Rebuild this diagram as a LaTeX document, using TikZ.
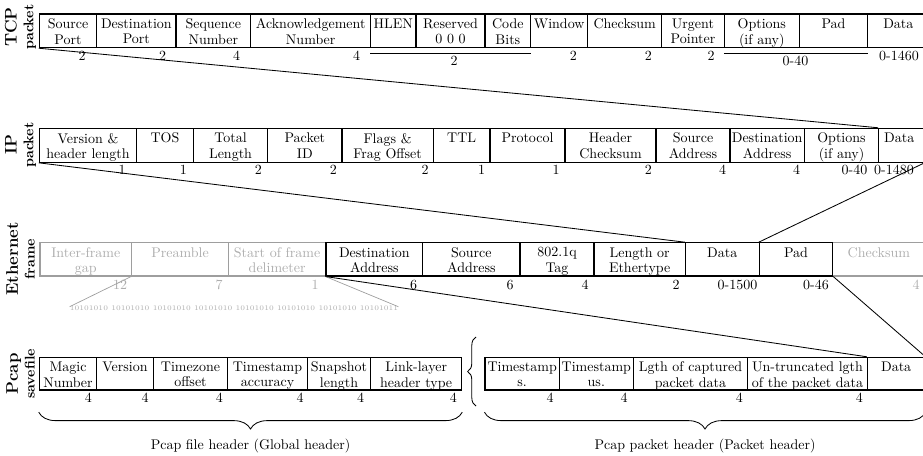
\documentclass[tikz,border=0pt]{standalone}
\usetikzlibrary{fit,decorations.pathreplacing}
\definecolor{gline}{gray}{0.62}
\definecolor{gtext}{gray}{0.68}
\begin{document}
\begin{tikzpicture}[x=0.7143pt,y=-0.7143pt,
  field/.style={draw, line width=0.75pt, inner sep=0pt},
  gfield/.style={field, draw=gline},
  ftxt/.style={anchor=north, align=center, inner sep=0pt, yshift=-3.6pt,
               font=\fontsize{10}{11}\selectfont},
  gftxt/.style={ftxt, text=gtext},
  num/.style={inner sep=0pt},
  gnum/.style={num, text=gtext},
  link/.style={line width=0.6pt},
  glink/.style={line width=0.5pt, draw=gline},
  rowlabel/.style={rotate=90, align=center, font=\bfseries, inner sep=0pt},
  brc/.style={decorate, decoration={brace, amplitude=#1}, line width=0.6pt}
]
\useasboundingbox (0,0) rectangle (923,456);
\clip (0,0) rectangle (923,456);

% ---------------- row labels ----------------
\node[rowlabel] (ltcp) at (20.5,27)  {{\large TCP}\\packet};
\node[rowlabel] (lip)  at (20.5,145) {{\large IP}\\packet};
\node[rowlabel] (leth) at (20.5,259) {{\large Ethernet}\\frame};
\node[rowlabel] (lpc)  at (20.5,374) {{\large Pcap}\\savefile};

% ---------------- TCP packet ----------------
\node[field, fit={(39.3,14)(96.7,47.7)},   label={[ftxt]north:{Source\\Port}}] (tcp1) {};
\node[field, fit={(96.7,14)(176,47.7)},    label={[ftxt]north:{Destination\\Port}}] (tcp2) {};
\node[field, fit={(176,14)(250.7,47.7)},   label={[ftxt]north:{Sequence\\Number}}] (tcp3) {};
\node[field, fit={(250.7,14)(370.7,47.7)}, label={[ftxt]north:{Acknowledgement\\Number}}] (tcp4) {};
\node[field, fit={(370.7,14)(416,47.7)},   label={[ftxt]north:{HLEN}}] (tcp5) {};
\node[field, fit={(416,14)(485,47.7)},     label={[ftxt]north:{Reserved\\0 0 0}}] (tcp6) {};
\node[field, fit={(485,14)(530.7,47.7)},   label={[ftxt]north:{Code\\Bits}}] (tcp7) {};
\node[field, fit={(530.7,14)(587.7,47.7)}, label={[ftxt]north:{Window}}] (tcp8) {};
\node[field, fit={(587.7,14)(661.7,47.7)}, label={[ftxt]north:{Checksum}}] (tcp9) {};
\node[field, fit={(661.7,14)(724.3,47.7)}, label={[ftxt]north:{Urgent\\Pointer}}] (tcp10) {};
\node[field, fit={(724.3,14)(799.3,47.7)}, label={[ftxt]north:{Options\\(if any)}}] (tcp11) {};
\node[field, fit={(799.3,14)(867.7,47.7)}, label={[ftxt]north:{Pad}}] (tcp12) {};
\node[field, fit={(867.7,14)(929,47.7)},   label={[ftxt]north:{Data}}] (tcp13) {};

\node[num] (tn1) at (82,56)    {2};
\node[num] (tn2) at (162.7,56) {2};
\node[num] (tn3) at (236.7,56) {4};
\node[num] (tn4) at (356.7,56) {4};
\draw[link] ([yshift=-4pt]tcp5.south west) -- ([yshift=-4pt]tcp7.south east);
\node[num] (tn5) at (454,61)   {2};
\node[num] (tn6) at (573.3,56) {2};
\node[num] (tn7) at (648.3,56) {2};
\node[num] (tn8) at (711,56)   {2};
\draw[link] ([yshift=-4pt]tcp11.south west) -- ([yshift=-4pt]tcp12.south east);
\node[num] (tn9) at (795.5,61) {0-40};
\node[num] (tn10) at (899,56)  {0-1460};

% ---------------- IP packet ----------------
\node[field, fit={(39.3,128.3)(136.7,162.3)},  label={[ftxt]north:{Version \&\\header length}}] (ip1) {};
\node[field, fit={(136.7,128.3)(193.3,162.3)}, label={[ftxt]north:{TOS}}] (ip2) {};
\node[field, fit={(193.3,128.3)(267.7,162.3)}, label={[ftxt]north:{Total\\Length}}] (ip3) {};
\node[field, fit={(267.7,128.3)(342,162.3)},   label={[ftxt]north:{Packet\\ID}}] (ip4) {};
\node[field, fit={(342,128.3)(433.3,162.3)},   label={[ftxt]north:{Flags \&\\Frag Offset}}] (ip5) {};
\node[field, fit={(433.3,128.3)(490,162.3)},   label={[ftxt]north:{TTL}}] (ip6) {};
\node[field, fit={(490,128.3)(565,162.3)},     label={[ftxt]north:{Protocol}}] (ip7) {};
\node[field, fit={(565,128.3)(656,162.3)},     label={[ftxt]north:{Header\\Checksum}}] (ip8) {};
\node[field, fit={(656,128.3)(730,162.3)},     label={[ftxt]north:{Source\\Address}}] (ip9) {};
\node[field, fit={(730,128.3)(804.3,162.3)},   label={[ftxt]north:{Destination\\Address}}] (ip10) {};
\node[field, fit={(804.3,128.3)(878.7,162.3)}, label={[ftxt]north:{Options\\(if any)}}] (ip11) {};
\node[field, fit={(878.7,128.3)(924,162.3)},   label={[ftxt,xshift=-1.5pt]north:{Data}}] (ip12) {};

\node[num] (in1)  at (122,170)   {1};
\node[num] (in2)  at (183.3,170) {1};
\node[num] (in3)  at (258.3,170) {2};
\node[num] (in4)  at (333.3,170) {2};
\node[num] (in5)  at (425,170)   {2};
\node[num] (in6)  at (481.7,170) {1};
\node[num] (in7)  at (556,170)   {1};
\node[num] (in8)  at (648.3,170) {2};
\node[num] (in9)  at (722.7,170) {4};
\node[num] (in10) at (796.7,170) {4};
\node[num] (in11) at (854.5,170) {0-40};
\node[num] (in12) at (894,170)   {0-1480};

% ---------------- Ethernet frame ----------------
\node[gfield, fit={(40,242.7)(131.7,276)},    label={[gftxt]north:{Inter-frame\\gap}}] (eth1) {};
\node[gfield, fit={(131.7,242.7)(228.3,276)}, label={[gftxt]north:{Preamble}}] (eth2) {};
\node[gfield, fit={(228.3,242.7)(326,276)},   label={[gftxt]north:{Start of frame\\delimeter}}] (eth3) {};
\node[gfield, fit={(832.7,242.7)(925,276)},   label={[gftxt]north:{Checksum}}] (eth10) {};
\node[field, fit={(326,242.7)(422.7,276)},    label={[ftxt]north:{Destination\\Address}}] (eth4) {};
\node[field, fit={(422.7,242.7)(520,276)},    label={[ftxt]north:{Source\\Address}}] (eth5) {};
\node[field, fit={(520,242.7)(594,276)},      label={[ftxt]north:{802.1q\\Tag}}] (eth6) {};
\node[field, fit={(594,242.7)(685.3,276)},    label={[ftxt]north:{Length or\\Ethertype}}] (eth7) {};
\node[field, fit={(685.3,242.7)(759.3,276)},  label={[ftxt]north:{Data}}] (eth8) {};
\node[field, fit={(759.3,242.7)(832.7,276)},  label={[ftxt]north:{Pad}}] (eth9) {};

\node[gnum] (en1) at (120,284.5)   {12};
\node[gnum] (en2) at (219,284.5)   {7};
\node[gnum] (en3) at (315,284.5)   {1};
\node[num]  (en4) at (413.7,284.5) {6};
\node[num]  (en5) at (510,284.5)   {6};
\node[num]  (en6) at (585,284.5)   {4};
\node[num]  (en7) at (676,284.5)   {2};
\node[num]  (en8) at (737.5,284.5) {0-1500};
\node[num]  (en9) at (816,284.5)   {0-46};
\node[gnum] (en10) at (916,284.5)  {4};

\node[gnum, font=\tiny] (bits) at (234,308)
  {10101010 10101010 10101010 10101010 10101010 10101010 10101010 10101011};
\draw[glink] (eth2.south west) -- ([yshift=-1pt]bits.north west);
\draw[glink] (eth4.south west) -- ([yshift=-1pt]bits.north east);

% ---------------- Pcap savefile ----------------
\node[field, fit={(39.3,357.3)(96.7,390)},   label={[ftxt]north:{Magic\\Number}}] (gh1) {};
\node[field, fit={(96.7,357.3)(153.3,390)},  label={[ftxt]north:{Version}}] (gh2) {};
\node[field, fit={(153.3,357.3)(227.7,390)}, label={[ftxt]north:{Timezone\\offset}}] (gh3) {};
\node[field, fit={(227.7,357.3)(307.3,390)}, label={[ftxt]north:{Timestamp\\accuracy}}] (gh4) {};
\node[field, fit={(307.3,357.3)(370.7,390)}, label={[ftxt]north:{Snapshot\\length}}] (gh5) {};
\node[field, fit={(370.7,357.3)(461.7,390)}, label={[ftxt]north:{Link-layer\\header type}}] (gh6) {};

\node[field, fit={(485,357.3)(559.3,390)},   label={[ftxt]north:{Timestamp\\s.}}] (pk1) {};
\node[field, fit={(559.3,357.3)(633.3,390)}, label={[ftxt]north:{Timestamp\\us.}}] (pk2) {};
\node[field, fit={(633.3,357.3)(747.7,390)}, label={[ftxt]north:{Lgth of captured\\packet data}}] (pk3) {};
\node[field, fit={(747.7,357.3)(867.3,390)}, label={[ftxt]north:{Un-truncated lgth\\of the packet data}}] (pk4) {};
\node[field, fit={(867.3,357.3)(925,390)},   label={[ftxt]north:{Data}}] (pk5) {};

\node[num] (gn1) at (88.3,398)  {4};
\node[num] (gn2) at (145,398)   {4};
\node[num] (gn3) at (219.3,398) {4};
\node[num] (gn4) at (300,398)   {4};
\node[num] (gn5) at (360.7,398) {4};
\node[num] (gn6) at (453.3,398) {4};
\node[num] (pn1) at (550,398)   {4};
\node[num] (pn2) at (624,398)   {4};
\node[num] (pn3) at (739.3,398) {4};
\node[num] (pn4) at (859.3,398) {4};

% braces
\draw[brc=12pt] ([yshift=-15.5pt]gh6.south east) -- ([yshift=-15.5pt]gh1.south west);
\draw[brc=12pt] ([yshift=-15.5pt]pk5.south east) -- ([yshift=-15.5pt]pk1.south west);
\draw[brc=6pt] (476,406) -- (476,337);
\node (ghl) at (250.5,445.5) {Pcap file header (Global header)};
\node (pkl) at (705,445.5)   {Pcap packet header (Packet header)};

% ---------------- encapsulation lines ----------------
\draw[link] (tcp1.south west) -- (ip12.north west);
\draw[link] (tcp13.south east) -- (ip12.north east);
\draw[link] (ip1.south west) -- (eth8.north west);
\draw[link] (ip12.south east) -- (eth9.north west);
\draw[link] (eth4.south west) -- (pk5.north west);
\draw[link] (eth9.south east) -- (pk5.north east);
\end{tikzpicture}
\end{document}
